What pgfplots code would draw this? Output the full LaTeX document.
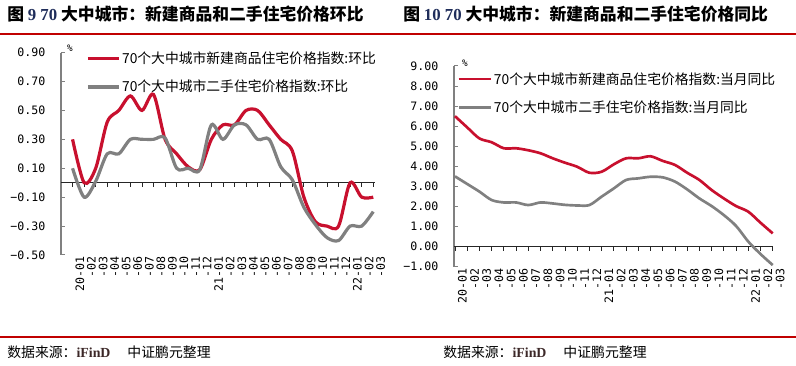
\documentclass[border=0pt]{standalone}
\usepackage{fontspec}
\usepackage{pgfplots}
\pgfplotsset{compat=1.18}
\setmainfont{Noto Sans CJK SC}
\newfontfamily\monof{DejaVu Sans Mono}
\newfontfamily\serif{Liberation Serif}
\definecolor{cred}{RGB}{200,16,46}
\definecolor{cgray}{RGB}{128,128,128}
\definecolor{rulered}{RGB}{192,0,0}
\definecolor{navy}{RGB}{31,45,90}
\definecolor{ifind}{RGB}{60,40,40}
\newcommand\tickfont{\monof\fontsize{8.7pt}{10pt}\selectfont}
\newcommand\legfont{\fontsize{10.35pt}{12pt}\selectfont}

\pgfplotstableread{
i newm secm
0 0.30 0.10
1 0.00 -0.10
2 0.10 0.01
3 0.42 0.20
4 0.50 0.20
5 0.60 0.30
6 0.50 0.30
7 0.61 0.30
8 0.30 0.31
9 0.20 0.10
10 0.11 0.10
11 0.09 0.09
12 0.30 0.40
13 0.40 0.30
14 0.40 0.40
15 0.50 0.40
16 0.50 0.30
17 0.40 0.30
18 0.30 0.11
19 0.22 0.02
20 -0.10 -0.17
21 -0.27 -0.29
22 -0.30 -0.38
23 -0.30 -0.40
24 0.00 -0.30
25 -0.10 -0.30
26 -0.10 -0.20
}\mom

\pgfplotstableread{
i newy secy
0 6.50 3.50
1 5.94 3.12
2 5.39 2.74
3 5.20 2.32
4 4.90 2.20
5 4.90 2.20
6 4.80 2.07
7 4.65 2.20
8 4.40 2.15
9 4.18 2.08
10 3.98 2.05
11 3.68 2.07
12 3.73 2.49
13 4.10 2.90
14 4.40 3.32
15 4.40 3.40
16 4.50 3.48
17 4.27 3.45
18 4.07 3.24
19 3.68 2.85
20 3.32 2.40
21 2.82 2.02
22 2.40 1.57
23 2.02 1.03
24 1.74 0.25
25 1.19 -0.37
26 0.66 -0.92
}\yoy

\pgfplotsset{
  common/.style={
    scale only axis, clip=false,
    axis y line*=left, axis x line*=bottom,
    x axis line style={draw=none},
    y axis line style={draw=cgray, line width=1.5pt},
    tick align=inside,
    major tick length=3pt,
    x tick style={draw=none},
    y tick style={draw=cgray, line width=0.75pt},
    xtick={0,...,26},
    xticklabels={20-01,-02,-03,-04,-05,-06,-07,-08,-09,-10,-11,-12,21-01,-02,-03,-04,-05,-06,-07,-08,-09,-10,-11,-12,22-01,-02,-03},
    xticklabel style={rotate=90, anchor=east, font=\tickfont, yshift=-5.5pt, inner sep=1pt},
    yticklabel style={font=\tickfont, anchor=east, xshift=-10.5pt, inner sep=1pt},
    legend cell align=left,
    legend style={draw=none, fill=none, inner sep=0pt, font=\legfont, row sep=8pt,
      nodes={inner sep=1.5pt}},
  },
}

\begin{document}
\begin{tikzpicture}
\useasboundingbox (0,0) rectangle (597pt,-274.5pt);
\begin{scope}[x=0.75pt,y=-0.75pt]
  % titles
  \node[anchor=west, inner sep=0] at (7,14) {\fontsize{12.6pt}{14pt}\selectfont\bfseries 图 {\serif\bfseries\color{navy}9 70} 大中城市：新建商品和二手住宅价格环比};
  \node[anchor=west, inner sep=0] at (403,14) {\fontsize{12.6pt}{14pt}\selectfont\bfseries 图 {\serif\bfseries\color{navy}10 70} 大中城市：新建商品和二手住宅价格同比};
  \draw[rulered, line width=1.5pt] (0,34.5) -- (796,34.5);
  \draw[rulered, line width=1.5pt] (0,337) -- (796,337);
  \node[anchor=west, inner sep=0] at (7,352) {\fontsize{10.4pt}{12pt}\selectfont 数据来源：{\serif\bfseries\color{ifind}iFinD}\quad\ 中证鹏元整理};
  \node[anchor=west, inner sep=0] at (443,352) {\fontsize{10.4pt}{12pt}\selectfont 数据来源：{\serif\bfseries\color{ifind}iFinD}\quad\ 中证鹏元整理};
  \node[inner sep=0, font=\monof\fontsize{7pt}{8pt}\selectfont] at (70,48) {\%};
  \node[inner sep=0, font=\monof\fontsize{7pt}{8pt}\selectfont] at (465,63) {\%};
\end{scope}

\begin{axis}[common,
  at={(45.75pt,-191.25pt)}, anchor=south west,
  width=235.5pt, height=151.8pt,
  xmin=-1, xmax=26.15, ymin=-0.5, ymax=0.9,
  ytick={-0.5,-0.3,-0.1,0.1,0.3,0.5,0.7,0.9},
  yticklabels={−0.50,−0.30,−0.10,0.10,0.30,0.50,0.70,0.90},
  legend style={at={(0.0796,1.015)}, anchor=north west},
  legend image code/.code={\draw[#1, line width=2.4pt] (0pt,0pt) -- (23pt,0pt);},
]
\draw[black!85, line width=0.6pt] (axis cs:-1,0) -- (axis cs:26.15,0);
\pgfplotsinvokeforeach{0,...,26}{\draw[black!85, line width=0.6pt] (axis cs:#1,0) -- ++(0pt,-3pt);}
\addplot[cred, line width=2.4pt, smooth] table[x=i, y=newm] {\mom};
\addlegendentry{70个大中城市新建商品住宅价格指数:环比}
\addplot[cgray, line width=2.4pt, smooth] table[x=i, y=secm] {\mom};
\addlegendentry{70个大中城市二手住宅价格指数:环比}
\end{axis}

\begin{axis}[common,
  at={(340.5pt,-200pt)}, anchor=south west,
  width=239.5pt, height=150.5pt,
  xmin=-0.08, xmax=26.05, ymin=-1, ymax=9,
  ytick={-1,0,1,2,3,4,5,6,7,8,9},
  yticklabels={−1.00,0.00,1.00,2.00,3.00,4.00,5.00,6.00,7.00,8.00,9.00},
  legend style={at={(0.0094,0.98)}, anchor=north west},
  legend image code/.code={\draw[#1, line width=2pt] (0pt,0pt) -- (24pt,0pt);},
]
\draw[black!85, line width=0.6pt] (axis cs:-0.08,0) -- (axis cs:26.05,0);
\pgfplotsinvokeforeach{0,...,26}{\draw[black!85, line width=0.6pt] (axis cs:#1,0) -- ++(0pt,-3pt);}
\addplot[cred, line width=2pt, smooth] table[x=i, y=newy] {\yoy};
\addlegendentry{70个大中城市新建商品住宅价格指数:当月同比}
\addplot[cgray, line width=2pt, smooth] table[x=i, y=secy] {\yoy};
\addlegendentry{70个大中城市二手住宅价格指数:当月同比}
\end{axis}
\end{tikzpicture}
\end{document}
